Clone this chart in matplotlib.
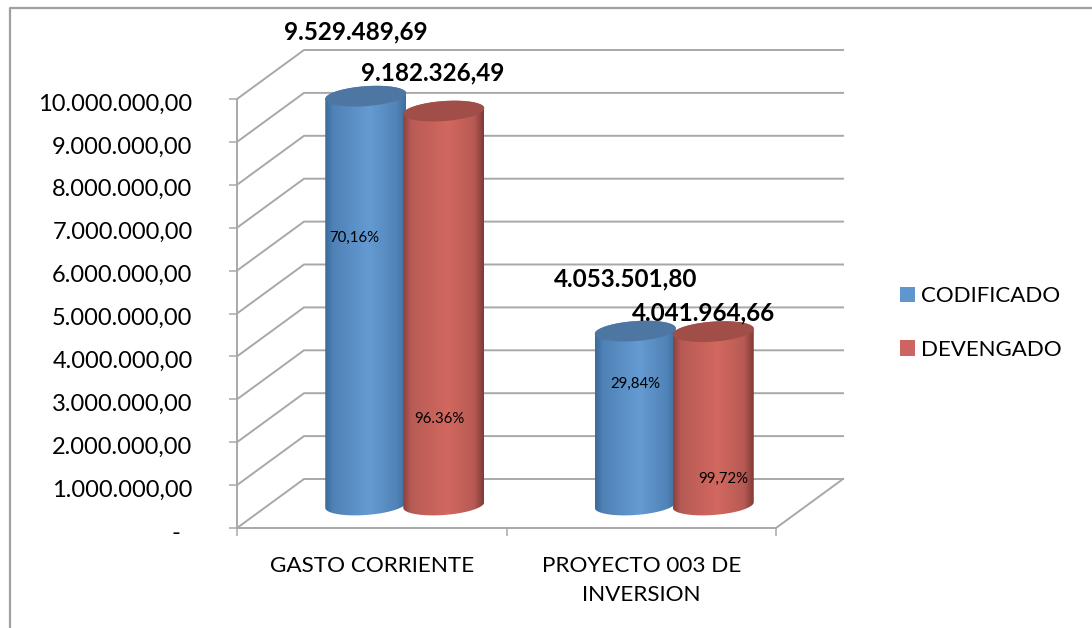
import numpy as np
import matplotlib
matplotlib.use("Agg")
import matplotlib.pyplot as plt
from matplotlib.colors import LinearSegmentedColormap
from matplotlib.lines import Line2D
from matplotlib.patches import Patch
from matplotlib.path import Path
from matplotlib.transforms import ScaledTranslation

categories = ["GASTO CORRIENTE", "PROYECTO 003 DE\nINVERSION"]
series_names = ["CODIFICADO", "DEVENGADO"]
codificado = [9529489.69, 4053501.80]
devengado = [9182326.49, 4041964.66]
codificado_labels = ["9.529.489,69", "4.053.501,80"]
devengado_labels = ["9.182.326,49", "4.041.964,66"]
codificado_pct = ["70,16%", "29,84%"]
devengado_pct = ["96.36%", "99,72%"]
y_ticks = [0, 1e6, 2e6, 3e6, 4e6, 5e6, 6e6, 7e6, 8e6, 9e6, 1e7]
y_tick_labels = ["-", "1.000.000,00", "2.000.000,00", "3.000.000,00", "4.000.000,00",
                 "5.000.000,00", "6.000.000,00", "7.000.000,00", "8.000.000,00",
                 "9.000.000,00", "10.000.000,00"]

W, H = 1092, 628
plt.rcParams["font.family"] = ["Lato", "DejaVu Sans"]
fig = plt.figure(figsize=(W / 100, H / 100), dpi=100, facecolor="white")
L, R, T, B = 237, 776, 99, 528
ax = fig.add_axes([L / W, 1 - B / H, (R - L) / W, (B - T) / H])
ax.set_facecolor("none")
for s in ax.spines.values():
    s.set_visible(False)

px_x = 2 / (R - L)      # data per pixel, horizontally
px_y = 1e7 / (B - T)    # data per pixel, vertically
dx, dy = 67 * px_x, 49 * px_y
GRID = "#A8A8A8"
LW = 1.4

for v in y_ticks:
    ax.plot([0, dx, 2 + dx], [v, v + dy, v + dy], color=GRID, lw=LW, clip_on=False, zorder=1,
            solid_joinstyle="miter")
ax.plot([0, 0], [0, 1e7], color=GRID, lw=LW, clip_on=False, zorder=1)
ax.plot([0, 2, 2 + dx], [0, 0, dy], color=GRID, lw=LW, clip_on=False, zorder=1,
        solid_joinstyle="miter")

blue_cmap = LinearSegmentedColormap.from_list(
    "b", [(0, "#3A6A99"), (0.1, "#4F82B6"), (0.55, "#659BD3"), (0.88, "#5184B8"), (1, "#426F9C")])
red_cmap = LinearSegmentedColormap.from_list(
    "r", [(0, "#8A413E"), (0.1, "#B85B55"), (0.55, "#D2685F"), (0.88, "#B85A54"), (1, "#803A37")])
BLUE_CAP, RED_CAP = "#4D76A3", "#A24E48"

a = 40.5 * px_x
tilt = 2.8 * px_y
b = 10 * px_y
base_x, base_y = 33 * px_x, 23 * px_y
shift = 39 * px_x


def cylinder(cx, value, cmap, cap):
    lower = np.linspace(np.pi, 2 * np.pi, 60)
    upper = np.linspace(0, np.pi, 60)
    y0 = base_y
    y1 = base_y + value
    xs = np.r_[cx + a * np.cos(lower), cx + a * np.cos(upper)]
    ys = np.r_[y0 + tilt * np.cos(lower) + b * np.sin(lower),
               y1 + tilt * np.cos(upper) + b * np.sin(upper)]
    verts = np.column_stack([xs, ys])
    path = Path(np.vstack([verts, verts[0]]), closed=True)
    im = ax.imshow(np.linspace(0, 1, 256)[None, :], cmap=cmap, aspect="auto",
                   extent=(cx - a, cx + a, y0 - 2 * b, y1 + 2 * b), zorder=3,
                   interpolation="bilinear")
    im.set_clip_path(path, transform=ax.transData)
    im.set_clip_box(fig.bbox)
    t = np.linspace(0, 2 * np.pi, 120)
    ax.fill(cx + a * np.cos(t), y1 + tilt * np.cos(t) + b * np.sin(t), color=cap, lw=0,
            clip_on=False, zorder=3)


label_off_c = [(-10, 64), (-10, 52)]
label_off_d = [(-11, 38), (-10, 19)]
pct_off_c = [(-11, -142), (0, -53)]
pct_off_d = [(-4, -308), (10, -147)]

for i in range(len(categories)):
    cc = i + 0.5 + base_x - shift
    cd = i + 0.5 + base_x + shift
    cylinder(cc, codificado[i], blue_cmap, BLUE_CAP)
    cylinder(cd, devengado[i], red_cmap, RED_CAP)
    for cx, val, txt, off, pct, poff in (
        (cc, codificado[i], codificado_labels[i], label_off_c[i], codificado_pct[i], pct_off_c[i]),
        (cd, devengado[i], devengado_labels[i], label_off_d[i], devengado_pct[i], pct_off_d[i]),
    ):
        top = val + base_y
        ax.annotate(txt, (cx, top), xytext=off, textcoords="offset pixels", ha="center",
                    va="center", fontsize=17.5, fontweight="bold", color="black",
                    annotation_clip=False, zorder=5)
        ax.annotate(pct, (cx, top), xytext=poff, textcoords="offset pixels", ha="center",
                    va="center", fontsize=10.8, color="black", annotation_clip=False, zorder=5)

ax.set_xlim(0, 2)
ax.set_ylim(0, 1e7)

ax.set_yticks(y_ticks)
ax.set_yticklabels(y_tick_labels)
ax.tick_params(axis="y", length=6, width=1.1, color=GRID, labelsize=17, pad=26, labelcolor="black")
ax.yaxis.get_major_ticks()[0].set_pad(35)
down = ScaledTranslation(0, -3 / 100, fig.dpi_scale_trans)
for lbl in ax.get_yticklabels():
    lbl.set_transform(lbl.get_transform() + down)

ax.set_xticks([0, 1, 2])
ax.set_xticklabels(["", "", ""])
ax.set_xticks([0.5, 1.5], minor=True)
ax.set_xticklabels(categories, minor=True, linespacing=1.55)
ax.tick_params(axis="x", which="major", length=6, width=1.1, color=GRID)
ax.tick_params(axis="x", which="minor", length=0, labelsize=16.2, pad=20, labelcolor="black")

handles = [Patch(color="#5F96CF", lw=0), Patch(color="#CD645F", lw=0)]
ax.legend(handles, series_names, loc="center left", bbox_to_anchor=(900 / W, 1 - 323 / H),
          bbox_transform=fig.transFigure, frameon=False, fontsize=16, handlelength=0.68,
          handleheight=0.68, handletextpad=0.28, labelspacing=1.5, borderpad=0, borderaxespad=0)

# Outer chart frame
fig.add_artist(Line2D([9.5 / W, 9.5 / W, 1], [0, 1 - 7.5 / H, 1 - 7.5 / H],
                      color="#A0A0A0", lw=1.6, transform=fig.transFigure))

fig.savefig("out.png", dpi=100)
